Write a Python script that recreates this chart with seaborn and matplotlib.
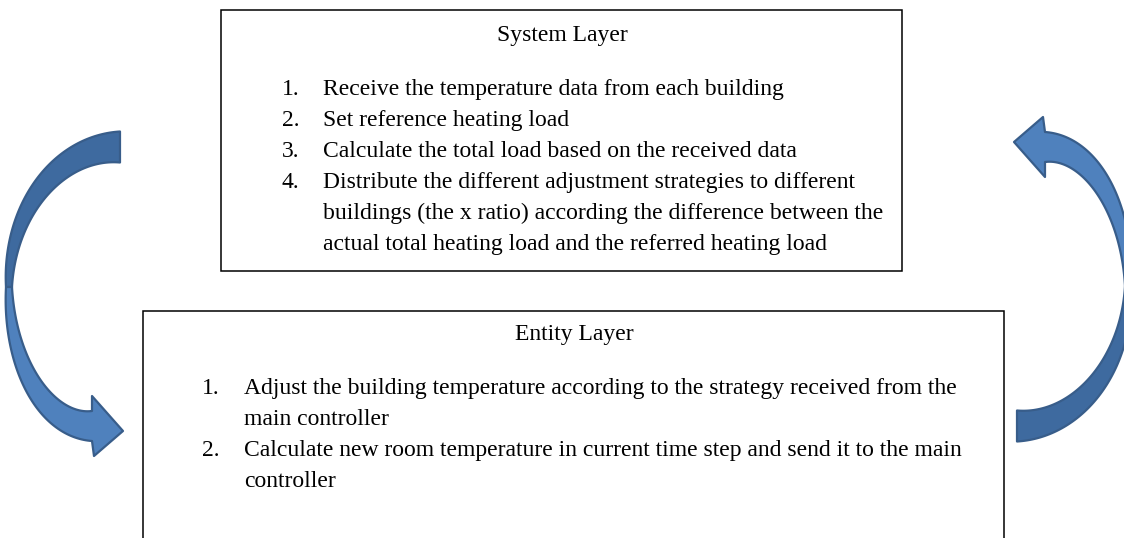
import numpy as np
import matplotlib
matplotlib.use("Agg")
import matplotlib.pyplot as plt
from matplotlib.patches import Rectangle, Polygon
import seaborn as sns

sns.set_theme(style="white")
plt.rcParams['font.family'] = ['Liberation Serif', 'DejaVu Serif']
plt.rcParams['text.color'] = 'black'

# --- diagram content ---
system_title = "System Layer"
system_nums = ["1.", "2.", "3.", "4.", "", ""]
system_lines = [
    "Receive the temperature data from each building",
    "Set reference heating load",
    "Calculate the total load based on the received data",
    "Distribute the different adjustment strategies to different",
    "buildings (the x ratio) according the difference between the",
    "actual total heating load and the referred heating load",
]
entity_title = "Entity Layer"
entity_nums = ["1.", "", "2.", ""]
entity_lines = [
    "Adjust the building temperature according to the strategy received from the",
    "main controller",
    "Calculate new room temperature in current time step and send it to the main",
    "controller",
]

W, H = 1124, 538
fig = plt.figure(figsize=(W / 100, H / 100), dpi=100)
ax = fig.add_axes([0, 0, 1, 1])
ax.set_xlim(0, W)
ax.set_ylim(H, 0)
ax.set_axis_off()

FS = 17

# boxes
ax.add_patch(Rectangle((221, 9.5), 681, 261.5, facecolor="white", edgecolor="black", lw=1.1))
ax.add_patch(Rectangle((143, 310.5), 861, 300, facecolor="white", edgecolor="black", lw=1.1))

ax.text(562, 41, system_title, ha="center", va="baseline", fontsize=FS)
for i, (n, t) in enumerate(zip(system_nums, system_lines)):
    y = 95 + i * 31
    if n:
        ax.text(282, y, n, ha="left", va="baseline", fontsize=FS)
    ax.text(323, y, t, ha="left", va="baseline", fontsize=FS)

ax.text(574, 340, entity_title, ha="center", va="baseline", fontsize=FS)
for i, (n, t) in enumerate(zip(entity_nums, entity_lines)):
    y = 394 + i * 31
    if n:
        ax.text(202, y, n, ha="left", va="baseline", fontsize=FS)
    ax.text(244, y, t, ha="left", va="baseline", fontsize=FS)


# curved block arrows
def band(phi_deg, w, cx, cy, rx, ry):
    p = np.radians(phi_deg)
    x = cx + rx * np.cos(p)
    y = cy - ry * np.sin(p)
    dx = -rx * np.sin(p)
    dy = -ry * np.cos(p)
    L = np.hypot(dx, dy)
    nx, ny = -dy / L, dx / L
    s = np.sign(nx * (x - cx) + ny * (y - cy))
    nx, ny = nx * s, ny * s
    outer = np.column_stack([x + nx * w / 2, y + ny * w / 2])
    inner = np.column_stack([x - nx * w / 2, y - ny * w / 2])
    return outer, inner, (x[-1], y[-1])


def curved_arrow(ax, transform):
    phi_b = np.linspace(90, 180, 80)
    ob, ib, _ = band(phi_b, np.linspace(31, 6, 80), 120, 287, 111, 140)
    phi_f = np.linspace(180, 270, 80)
    of, inf, (ex, ey) = band(phi_f, np.linspace(6, 30, 80), 92, 287, 83, 139)
    back = np.vstack([ob, ib[::-1]])
    head = np.array([
        [ex + 2, ey + 30],
        [ex + 31, ey + 5],
        [ex, ey - 30],
    ])
    front = np.vstack([of, head, inf[::-1]])
    for pts, col in [(back, "#3e6a9f"), (front, "#4f81bd")]:
        pts = transform(pts)
        ax.add_patch(Polygon(pts, closed=True, facecolor=col, edgecolor="#385d8a",
                             lw=1.6, joinstyle="round"))


curved_arrow(ax, lambda p: p)
curved_arrow(ax, lambda p: np.column_stack([1137 - p[:, 0], 573 - p[:, 1]]))

fig.savefig("out.png", dpi=100, facecolor="white")
